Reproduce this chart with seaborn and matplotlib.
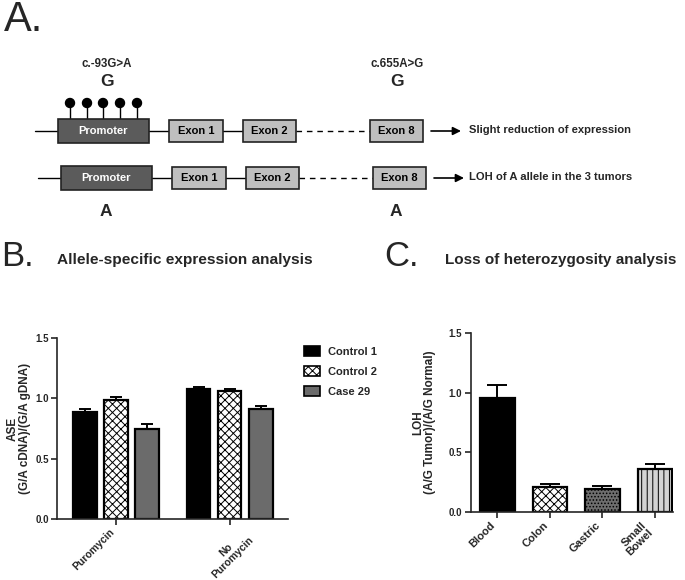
import numpy as np
import pandas as pd
import matplotlib
matplotlib.use('Agg')
import matplotlib.pyplot as plt
from matplotlib.patches import Rectangle, Circle, Patch
import seaborn as sns

# panel B: allele-specific expression
treatments = ['Puromycin', 'No\nPuromycin']
samples = ['Control 1', 'Control 2', 'Case 29']
ase_mean = {'Control 1': [0.884, 1.077], 'Control 2': [0.986, 1.063], 'Case 29': [0.743, 0.909]}
ase_sem = {'Control 1': [0.025, 0.014], 'Control 2': [0.027, 0.014], 'Case 29': [0.044, 0.027]}
sample_colors = ['black', 'white', '#6b6b6b']
sample_hatch = ['', 'xxxx', '']

# panel C: loss of heterozygosity
tissues = ['Blood', 'Colon', 'Gastric', 'Small\nBowel']
loh_mean = [0.96, 0.207, 0.193, 0.361]
loh_sem = [0.106, 0.028, 0.025, 0.042]
tissue_colors = ['black', 'white', '#6e6e6e', '#d4d4d4']
tissue_hatch = ['', 'xxxx', '.....', '|||']
hatch_colors = ['black', 'black', '#2a2a2a', '#7a7a7a']

# panel A: gene schematic
box_names = ['Promoter', 'Exon 1', 'Exon 2', 'Exon 8']
box_left = [58, 169, 243, 370]
box_right = [149, 223, 296, 423]
row_y = [131, 178]
row_shift = [0, 3]
outcomes = ['Slight reduction of expression', 'LOH of A allele in the 3 tumors']
cpg_x = [70, 87, 103, 120, 137]

W, H = 685, 580
sns.set_style('ticks')
plt.rcParams['font.family'] = ['Liberation Sans', 'DejaVu Sans']
plt.rcParams['hatch.linewidth'] = 0.7
fig = plt.figure(figsize=(W / 100, H / 100), dpi=100)


def fx(x):
    return x / W


def fy(y):
    return 1 - y / H


# ---- A ----
ax_a = fig.add_axes([0, fy(230), 1, 230 / H])
ax_a.set_xlim(0, W)
ax_a.set_ylim(230, 0)
ax_a.axis('off')
fig.text(fx(4), fy(20), 'A.', fontsize=30, va='center')
for r, (yc, sh) in enumerate(zip(row_y, row_shift)):
    ax_a.plot([35 + sh, box_left[0] + sh], [yc, yc], color='black', lw=1)
    for i, name in enumerate(box_names):
        l, rt = box_left[i] + sh, box_right[i] + sh
        h = 24 if i == 0 else 22
        fc = '#5b5b5b' if i == 0 else '#bfbfbf'
        ax_a.add_patch(Rectangle((l, yc - h / 2), rt - l, h, facecolor=fc,
                                 edgecolor='#222222', lw=1.2, zorder=3))
        ax_a.text((l + rt) / 2, yc, name, ha='center', va='center', fontsize=8,
                  fontweight='bold', color='white' if i == 0 else 'black', zorder=4)
        if i < len(box_names) - 1:
            if i == 2:
                ax_a.plot([rt, box_left[i + 1] + sh], [yc, yc], color='black', lw=1,
                          ls='--', dashes=(4, 3.5))
            else:
                ax_a.plot([rt, box_left[i + 1] + sh], [yc, yc], color='black', lw=1)
    ax_a.annotate('', xy=(461 + sh, yc), xytext=(431 + sh, yc),
                  arrowprops=dict(arrowstyle='-|>', color='black', lw=1.2,
                                  mutation_scale=12, shrinkA=0, shrinkB=0))
    ax_a.text(469, yc - 1, outcomes[r], ha='left', va='center', fontsize=8.1,
              fontweight='bold')
for x in cpg_x:
    ax_a.plot([x, x], [107, 119], color='black', lw=1)
    ax_a.add_patch(Circle((x, 103), 4.5, color='black'))
for xc, var in [(107, 'c.-93G>A'), (397, 'c.655A>G')]:
    ax_a.text(xc, 64, var, ha='center', va='center', fontsize=8.3, fontweight='bold')
    ax_a.text(xc, 82, 'G', ha='center', va='center', fontsize=12.5, fontweight='bold')
    ax_a.text(xc - 1, 211, 'A', ha='center', va='center', fontsize=12.5, fontweight='bold')

# ---- B ----
rows = []
for s in samples:
    for t, m in zip(treatments, ase_mean[s]):
        rows.append({'Treatment': t, 'Sample': s, 'ASE': m})
df_b = pd.DataFrame(rows)
ax_b = fig.add_axes([fx(57), fy(519), (288 - 57) / W, (519 - 338) / H])
sns.barplot(data=df_b, x='Treatment', y='ASE', hue='Sample', hue_order=samples,
            palette=sample_colors, width=0.82, gap=0.23, errorbar=None,
            edgecolor='black', linewidth=1.6, ax=ax_b)
bar_conts = list(ax_b.containers)
for k, cont in enumerate(bar_conts):
    s = samples[k]
    for p in cont.patches:
        p.set_hatch(sample_hatch[k])
    xs = [p.get_x() + p.get_width() / 2 for p in cont.patches]
    ax_b.errorbar(xs, ase_mean[s], yerr=[np.zeros(len(xs)), ase_sem[s]], fmt='none',
                  ecolor='black', elinewidth=1.4, capsize=4, capthick=1.4, zorder=1)
ax_b.get_legend().remove()
handles = [Patch(facecolor=c, edgecolor='black', hatch=h, lw=1.2)
           for c, h in zip(sample_colors, sample_hatch)]
fig.legend(handles, samples, loc='upper left', bbox_to_anchor=(fx(294), fy(336)),
           frameon=False, handlelength=1.45, handleheight=1.0, labelspacing=0.85,
           handletextpad=0.7, borderpad=0.4, prop={'weight': 'bold', 'size': 8})
ax_b.set_xlim(-0.52, 1.515)
ax_b.set_ylim(0, 1.5)
ax_b.set_yticks([0, 0.5, 1.0, 1.5])
ax_b.set_yticklabels(['0.0', '0.5', '1.0', '1.5'])
ax_b.set_xlabel('')
ax_b.set_ylabel('ASE\n(G/A cDNA)/(G/A gDNA)', fontsize=8.5, fontweight='bold',
                labelpad=3, linespacing=1.0)
ax_b.set_xticks([0, 1])
ax_b.set_xticklabels(treatments, rotation=45, ha='right', va='top',
                     fontsize=7.5, fontweight='bold', linespacing=1.0)
xl = ax_b.get_xticklabels()
xl[1].set_horizontalalignment('center')
xl[1].set_multialignment('center')
fig.text(fx(1), fy(257), 'B.', fontsize=25, va='center')
fig.text(fx(57), fy(260), 'Allele-specific expression analysis', fontsize=11.1,
         fontweight='bold', va='center')

# ---- C ----
df_c = pd.DataFrame({'Tissue': tissues, 'LOH': loh_mean})
ax_c = fig.add_axes([fx(470.7), fy(512), (673 - 470.7) / W, (512 - 333.3) / H])
sns.barplot(data=df_c, x='Tissue', y='LOH', hue='Tissue', palette=tissue_colors,
            legend=False, width=0.66, errorbar=None, edgecolor='black', linewidth=1.6,
            ax=ax_c)
bars_c = [p for cont in list(ax_c.containers) for p in cont.patches]
for p, h, hc in zip(bars_c, tissue_hatch, hatch_colors):
    p.set_hatch(h)
    if hasattr(p, 'set_hatchcolor'):
        p.set_hatchcolor(hc)
xs = [p.get_x() + p.get_width() / 2 for p in bars_c]
ax_c.errorbar(xs, loh_mean, yerr=[np.zeros(len(xs)), loh_sem], fmt='none',
              ecolor='black', elinewidth=1.4, capsize=7, capthick=1.4, zorder=1)
ax_c.set_xlim(-0.505, 3.34)
ax_c.set_ylim(0, 1.5)
ax_c.set_yticks([0, 0.5, 1.0, 1.5])
ax_c.set_yticklabels(['0.0', '0.5', '1.0', '1.5'])
ax_c.set_xlabel('')
ax_c.set_ylabel('LOH\n(A/G Tumor)/(A/G Normal)', fontsize=8.5, fontweight='bold',
                labelpad=9, linespacing=1.0)
ax_c.set_xticks(range(len(tissues)))
ax_c.set_xticklabels(tissues, rotation=45, ha='right', va='top',
                     fontsize=8, fontweight='bold', linespacing=1.0)
fig.text(fx(384), fy(257), 'C.', fontsize=25, va='center')
fig.text(fx(445), fy(260), 'Loss of heterozygosity analysis', fontsize=11,
         fontweight='bold', va='center')

for ax in (ax_b, ax_c):
    sns.despine(ax=ax)
    for sp in ('left', 'bottom'):
        ax.spines[sp].set_linewidth(1.2)
    ax.tick_params(axis='both', width=1.2, length=4, pad=2)
    for lab in ax.get_yticklabels():
        lab.set_fontsize(7)
        lab.set_fontweight('bold')

fig.savefig('out.png', dpi=100)
